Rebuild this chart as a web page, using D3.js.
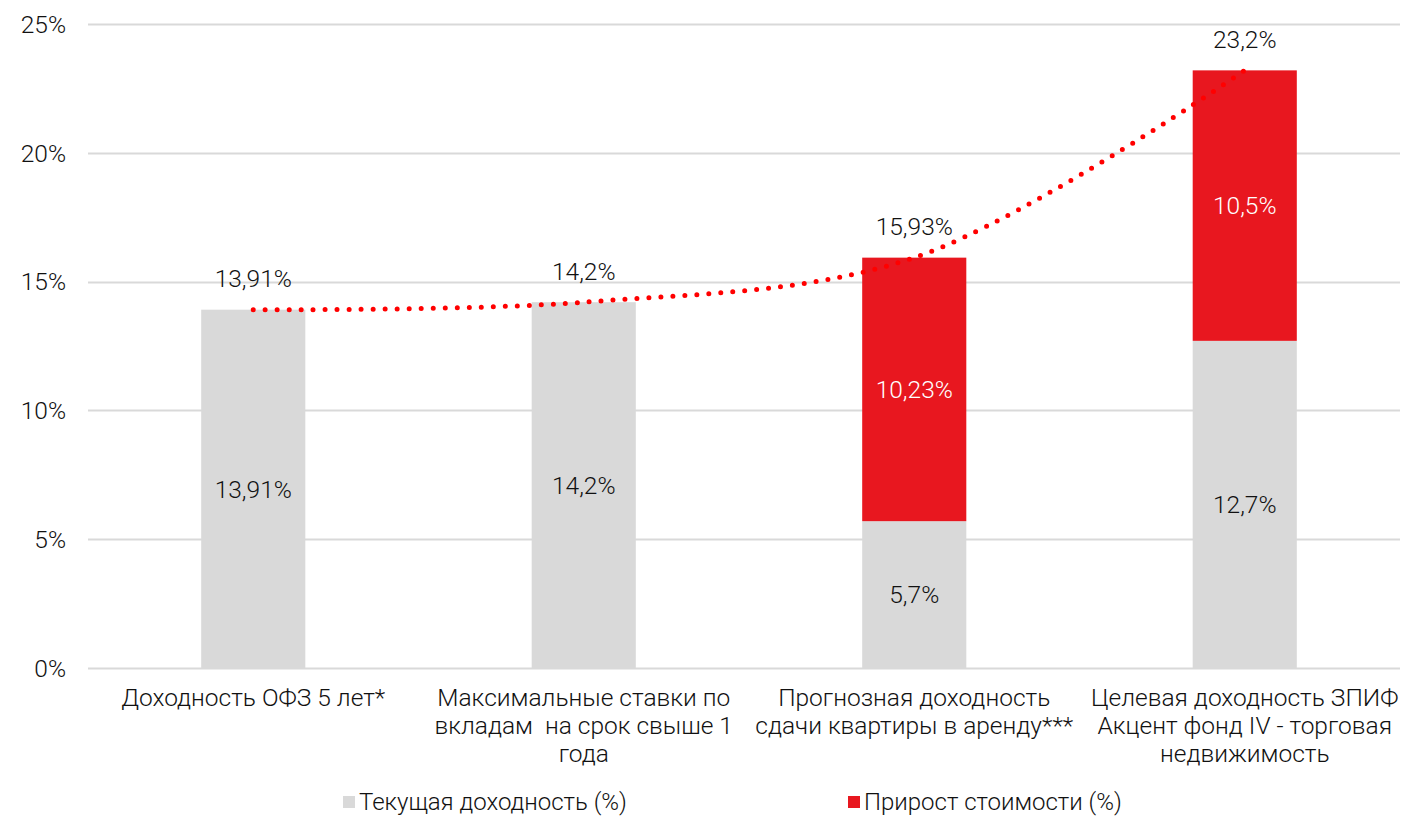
<!DOCTYPE html>
<html>
<head>
<meta charset="utf-8">
<script src="https://cdn.jsdelivr.net/npm/d3@7"></script>
<style>
  body { margin: 0; background: #fff; }
  text { font-family: Roboto, "Liberation Sans", sans-serif; font-weight: 300; fill: #111; }
</style>
</head>
<body>
<div id="chart"></div>
<script>
// categories (label lines) and series
var categories = [
  ["Доходность ОФЗ 5 лет*"],
  ["Максимальные ставки по", "вкладам  на срок свыше 1", "года"],
  ["Прогнозная доходность", "сдачи квартиры в аренду***"],
  ["Целевая доходность ЗПИФ", "Акцент фонд IV - торговая", "недвижимость"]
]
var currentYield = [13.91, 14.2, 5.7, 12.7]
var currentLabels = ["13,91%", "14,2%", "5,7%", "12,7%"]
var growth = [0, 0, 10.23, 10.5]
var growthLabels = ["", "", "10,23%", "10,5%"]
var totals = [13.91, 14.2, 15.93, 23.2]
var totalLabels = ["13,91%", "14,2%", "15,93%", "23,2%"]
var yTicks = [0, 5, 10, 15, 20, 25]
var legendNames = ["Текущая доходность (%)", "Прирост стоимости (%)"]

const width = 1407
const height = 816
const padding = { top: 24, left: 88, right: 1410, bottom: 668 }
const fontSize = "24.5px"

const greyColor = "#d9d9d9"
const redColor = "#e8171f"

const xScale = d3.scaleBand().domain(d3.range(categories.length)).range([padding.left, padding.right]).paddingInner(0.685).paddingOuter(0.3425)
const yScale = d3.scaleLinear().domain([0, 25]).range([padding.bottom, padding.top])

var svg = d3.select("#chart").append("svg")
  .attr("width", width)
  .attr("height", height)

// gridlines
svg.append("g").selectAll("line")
  .data(yTicks)
  .enter()
  .append("line")
  .attr("x1", padding.left)
  .attr("x2", 1400)
  .attr("y1", d => Math.round(yScale(d)) + 0.5)
  .attr("y2", d => Math.round(yScale(d)) + 0.5)
  .attr("stroke", "#d9d9d9")
  .attr("stroke-width", 2)

// y tick labels
svg.append("g").selectAll("text")
  .data(yTicks)
  .enter()
  .append("text")
  .attr("x", 66)
  .attr("y", d => yScale(d))
  .attr("dy", "0.36em")
  .attr("text-anchor", "end")
  .style("font-size", fontSize)
  .text(d => d + "%")

var bw = xScale.bandwidth()

// grey bars
svg.append("g").selectAll("rect")
  .data(currentYield)
  .enter()
  .append("rect")
  .attr("x", (d, i) => xScale(i))
  .attr("width", bw)
  .attr("y", d => yScale(d))
  .attr("height", d => yScale(0) - yScale(d))
  .attr("fill", greyColor)

// red bars stacked on top
svg.append("g").selectAll("rect")
  .data(growth)
  .enter()
  .append("rect")
  .attr("x", (d, i) => xScale(i))
  .attr("width", bw)
  .attr("y", (d, i) => yScale(currentYield[i] + d))
  .attr("height", (d, i) => yScale(currentYield[i]) - yScale(currentYield[i] + d))
  .attr("fill", redColor)

// labels inside bars
svg.append("g").selectAll("text")
  .data(currentYield)
  .enter()
  .append("text")
  .attr("x", (d, i) => xScale(i) + bw / 2)
  .attr("y", d => (yScale(0) + yScale(d)) / 2)
  .attr("dy", "0.36em")
  .attr("text-anchor", "middle")
  .style("font-size", fontSize)
  .text((d, i) => currentLabels[i])

svg.append("g").selectAll("text")
  .data(growth)
  .enter()
  .append("text")
  .attr("x", (d, i) => xScale(i) + bw / 2)
  .attr("y", (d, i) => (yScale(currentYield[i]) + yScale(currentYield[i] + d)) / 2)
  .attr("dy", "0.36em")
  .attr("text-anchor", "middle")
  .style("font-size", fontSize)
  .style("fill", "#fff")
  .text((d, i) => growthLabels[i])

// dotted trend line through totals
var line = d3.line()
  .x((d, i) => xScale(i) + bw / 2)
  .y(d => yScale(d))
  .curve(d3.curveCatmullRom.alpha(0.5))

svg.append("path")
  .datum(totals)
  .attr("d", line)
  .attr("fill", "none")
  .attr("stroke", "#ff0000")
  .attr("stroke-width", 5)
  .attr("stroke-linecap", "round")
  .attr("stroke-dasharray", "0 12")

// total labels above
svg.append("g").selectAll("text")
  .data(totals)
  .enter()
  .append("text")
  .attr("x", (d, i) => xScale(i) + bw / 2)
  .attr("y", d => yScale(d) - 31)
  .attr("dy", "0.36em")
  .attr("text-anchor", "middle")
  .style("font-size", fontSize)
  .text((d, i) => totalLabels[i])

// category labels
var cat = svg.append("g").selectAll("text")
  .data(categories)
  .enter()
  .append("text")
  .attr("x", (d, i) => xScale(i) + bw / 2)
  .attr("y", 697)
  .attr("text-anchor", "middle")
  .style("font-size", fontSize)

cat.selectAll("tspan")
  .data(d => d)
  .enter()
  .append("tspan")
  .attr("x", function() { return d3.select(this.parentNode).attr("x") })
  .attr("y", (d, j) => 697 + j * 28)
  .attr("dy", "0.36em")
  .style("white-space", "pre")
  .attr("xml:space", "preserve")
  .text(d => d)

// legend
var legendX = [343, 848]
var legend = svg.append("g").selectAll("g")
  .data(legendNames)
  .enter()
  .append("g")
  .attr("transform", (d, i) => "translate(" + legendX[i] + ",801)")

legend.append("rect")
  .attr("x", 0)
  .attr("y", -5)
  .attr("width", 12)
  .attr("height", 12)
  .attr("fill", (d, i) => i == 0 ? greyColor : redColor)

legend.append("text")
  .attr("x", 16)
  .attr("y", 0)
  .attr("dy", "0.36em")
  .style("font-size", "24px")
  .text(d => d)
</script>
</body>
</html>
